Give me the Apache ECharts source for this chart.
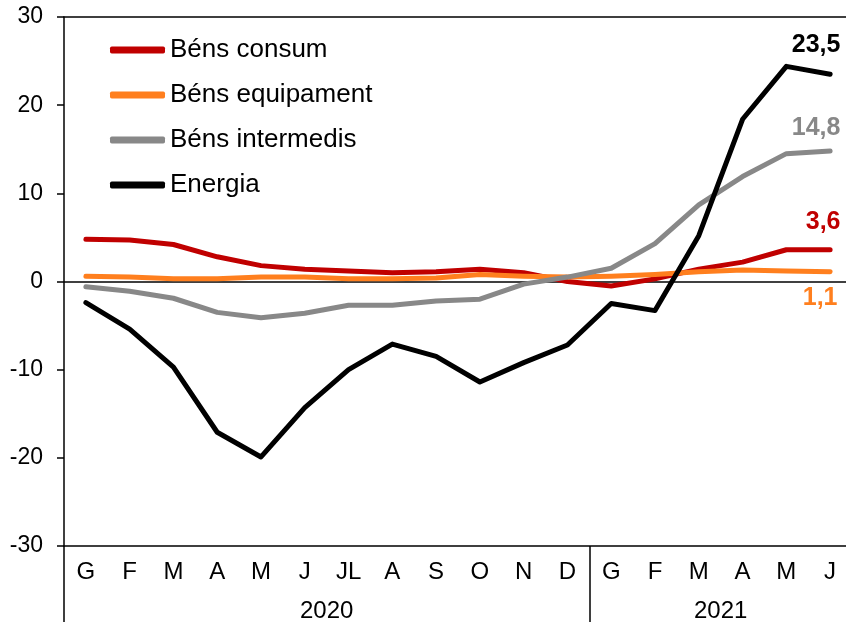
<!DOCTYPE html>
<html>
<head>
<meta charset="utf-8">
<script src="https://cdn.jsdelivr.net/npm/echarts@6/dist/echarts.min.js"></script>
<style>
  html, body { margin: 0; padding: 0; background: #fff; }
  #chart { width: 846px; height: 622px; }
</style>
</head>
<body>
<div id="chart"></div>
<script>
// mesos (2020: G..D, 2021: G..J)
var months = ['G', 'F', 'M', 'A', 'M', 'J', 'JL', 'A', 'S', 'O', 'N', 'D', 'G', 'F', 'M', 'A', 'M', 'J'];
var years = ['2020', '2021'];
var yearCenters = [6, 15];
var yearBreaks = [0, 12];

var consum = [4.8, 4.7, 4.2, 2.8, 1.8, 1.4, 1.2, 1.0, 1.1, 1.4, 1.0, 0.0, -0.5, 0.3, 1.4, 2.2, 3.6, 3.6];
var equipament = [0.6, 0.5, 0.3, 0.3, 0.5, 0.5, 0.3, 0.3, 0.4, 0.8, 0.6, 0.5, 0.6, 0.8, 1.1, 1.3, 1.2, 1.1];
var intermedis = [-0.6, -1.1, -1.9, -3.5, -4.1, -3.6, -2.7, -2.7, -2.2, -2.0, -0.3, 0.5, 1.5, 4.3, 8.7, 11.9, 14.5, 14.8];
var energia = [-2.4, -5.4, -9.7, -17.1, -19.9, -14.3, -10.0, -7.1, -8.5, -11.4, -9.2, -7.2, -2.5, -3.3, 5.2, 18.4, 24.4, 23.5];

var FONT = 'Liberation Sans';

function fmt(v) {
    return String(v).replace('.', ',');
}

function lineSeries(name, data, color, labelOffset) {
    return {
        name: name,
        type: 'line',
        data: data,
        symbol: 'none',
        smooth: false,
        lineStyle: {width: 5, color: color, cap: 'round', join: 'round'},
        itemStyle: {color: color},
        // valor final sobre la línia
        endLabel: {
            show: true,
            distance: 0,
            align: 'center',
            verticalAlign: 'middle',
            offset: labelOffset,
            color: color,
            fontFamily: FONT,
            fontWeight: 'bold',
            fontSize: 25,
            formatter: function (p) { return fmt(p.value); }
        },
        z: 3
    };
}

var chart = echarts.init(document.getElementById('chart'));

var series = [
    lineSeries('Béns consum', consum, '#C00000', [-7, -28]),
    lineSeries('Béns equipament', equipament, '#FF7F1E', [-10, 26]),
    lineSeries('Béns intermedis', intermedis, '#888888', [-14, -23]),
    lineSeries('Energia', energia, '#000000', [-14, -29])
];
// línia del zero
series[0].markLine = {
    silent: true,
    symbol: 'none',
    label: {show: false},
    lineStyle: {color: '#000', width: 1.5, type: 'solid'},
    data: [{yAxis: 0}],
    z: 1
};

var option = {
    animation: false,
    backgroundColor: '#fff',
    grid: {left: 64, top: 17, width: 788, height: 529, outerBoundsMode: 'none', containLabel: false},
    legend: {
        orient: 'vertical',
        left: 110,
        top: 37,
        padding: 0,
        itemWidth: 55,
        itemHeight: 7,
        itemGap: 19,
        icon: 'roundRect',
        textStyle: {fontFamily: FONT, fontSize: 26, color: '#000'},
        data: ['Béns consum', 'Béns equipament', 'Béns intermedis', 'Energia']
    },
    xAxis: [
        {
            type: 'category',
            data: months,
            position: 'bottom',
            boundaryGap: true,
            axisLine: {onZero: false, lineStyle: {color: '#000', width: 1.5}},
            axisTick: {show: false},
            axisLabel: {color: '#000', fontFamily: FONT, fontSize: 24, margin: 14, interval: 0},
            splitLine: {show: false}
        },
        {
            type: 'value',
            min: 0,
            max: 18,
            position: 'bottom',
            axisLine: {show: false, onZero: false},
            axisTick: {
                show: true,
                customValues: yearBreaks,
                length: 76,
                lineStyle: {color: '#000', width: 1.5}
            },
            axisLabel: {
                show: true,
                customValues: yearCenters,
                margin: 53,
                color: '#000',
                fontFamily: FONT,
                fontSize: 24,
                formatter: function (v) { return years[yearCenters.indexOf(v)]; }
            },
            splitLine: {show: false}
        },
        {
            type: 'category',
            data: months,
            position: 'top',
            axisLine: {onZero: false, lineStyle: {color: '#000', width: 1.5}},
            axisTick: {show: false},
            axisLabel: {show: false},
            splitLine: {show: false}
        }
    ],
    yAxis: {
        type: 'value',
        min: -30,
        max: 30,
        interval: 10,
        axisLine: {show: true, lineStyle: {color: '#000', width: 1.5}},
        axisTick: {show: true, length: 7, lineStyle: {color: '#000', width: 1.5}},
        axisLabel: {color: '#000', fontFamily: FONT, fontSize: 23, margin: 21},
        splitLine: {show: false}
    },
    series: series
};

chart.setOption(option);
</script>
</body>
</html>
